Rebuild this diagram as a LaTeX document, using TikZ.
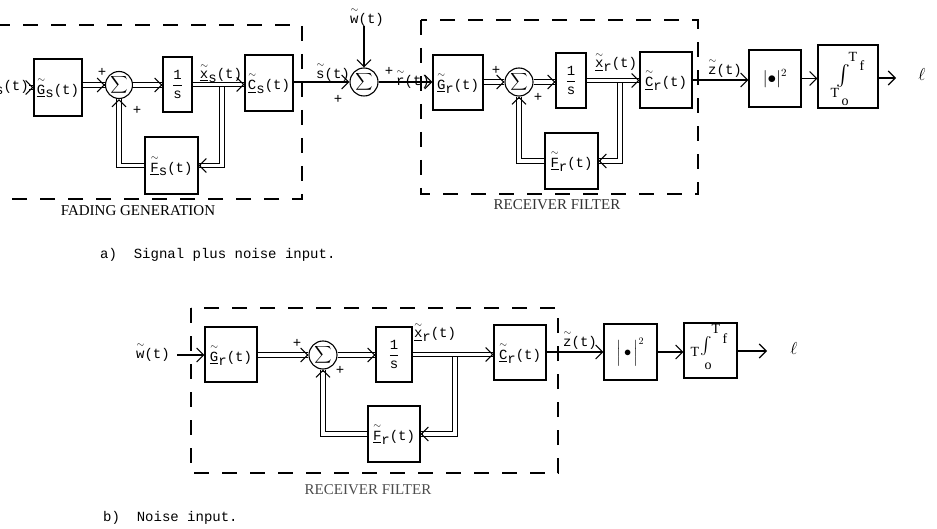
\documentclass[tikz,border=0pt]{standalone}
\usepackage{amsmath}
\usepackage{fontspec}
\setmainfont{Liberation Serif}
\setmonofont{Liberation Mono}
\usetikzlibrary{arrows.meta}
\newcommand{\vt}[1]{$\underline{\stackrel{\sim}{\hbox{\ttfamily #1}}}$}
\newcommand{\tl}[1]{$\stackrel{\sim}{\hbox{\ttfamily #1}}$}
\newcommand{\sbs}[1]{\raisebox{-0.5ex}{#1}}
\newcommand{\tipR}[1]{\draw[arr] ([xshift=-1pt]#1) -- (#1);}
\newcommand{\tipL}[1]{\draw[arr] ([xshift=1pt]#1) -- (#1);}
\newcommand{\tipU}[1]{\draw[arr] ([yshift=-1pt]#1) -- (#1);}
\begin{document}
\begin{tikzpicture}[x=1pt,y=-1pt,
  every node/.style={font=\fontsize{14}{16}\selectfont\ttfamily, inner sep=0pt},
  blk/.style 2 args={draw, line width=1.1pt, minimum width=#1, minimum height=#2},
  sumc/.style={draw, circle, line width=1.1pt, minimum size=27pt, font=\fontsize{12}{14}\selectfont},
  arr/.style={line width=1.1pt, -{Straight Barb[length=7pt,width=14pt]}},
  dl/.style={line width=1pt, double, double distance=3.5pt},
  dsh/.style={line width=1.1pt, dash pattern=on 15pt off 13pt},
  captxt/.style={font=\fontsize{15}{17}\selectfont\rmfamily},
  lim/.style={font=\fontsize{14}{16}\selectfont\rmfamily},
  pl/.style={font=\fontsize{14}{16}\selectfont\ttfamily}]
\useasboundingbox (0,0) rectangle (937,529);

% ---------------- part a ----------------
\draw[dsh] (-5,25) -- (302,25) -- (302,199) -- (-5,199);
\draw[dsh] (421,20) rectangle (698,194);

\node[blk={48pt}{57pt}] (Gs) at (58,87.5) {\vt{G}\sbs{s}(t)};
\node[sumc] (s1) at (119,85) {$\displaystyle\sum$};
\node[blk={29pt}{55pt}] (I1) at (177.5,84.5) {$\displaystyle\frac{\hbox{1}}{\hbox{s}}$};
\node[blk={48pt}{56pt}] (Cs) at (269,83) {\vt{C}\sbs{s}(t)};
\node[blk={53pt}{57pt}] (Fs) at (171.5,165.5) {\vt{F}\sbs{s}(t)};
\node[sumc, minimum size=28pt] (s2) at (364,82) {$\displaystyle\sum$};
\node[blk={50pt}{55pt}] (Gr) at (458,82.5) {\vt{G}\sbs{r}(t)};
\node[sumc, minimum size=28pt] (s3) at (519,82) {$\displaystyle\sum$};
\node[blk={30pt}{55pt}] (I2) at (571,80.5) {$\displaystyle\frac{\hbox{1}}{\hbox{s}}$};
\node[blk={52pt}{56pt}] (Cr) at (666,80) {\vt{C}\sbs{r}(t)};
\node[blk={53pt}{56pt}] (Fr) at (571.5,161) {\vt{F}\sbs{r}(t)};
\node[blk={52pt}{57pt}, font=\fontsize{16}{18}\selectfont] (Sq) at (775,78.5) {$|{\bullet}|^2$};
\node[blk={60pt}{63pt}] (Ig) at (848,76.5) {};
\node[font=\fontsize{20}{22}\selectfont] (Iga) at (843,76) {$\int$};
\node[lim] (Igf) at (853,57) {T};
\node[lim] (Igf2) at (862,66) {f};
\node[lim] (Igo) at (835,93) {T};
\node[lim] (Igo2) at (845,102) {o};
\node[font=\fontsize{16}{18}\selectfont] (l1) at (922,75) {$\ell$};

% labels a
\node[anchor=east] (inl) at (29,85) {\tl{w}\sbs{s}(t)};
\node[pl] (pa1) at (102,72) {+};
\node[pl] (pa2) at (137,110) {+};
\node (xs) at (221,73) {\vt{x}\sbs{s}(t)};
\node (sl) at (333,72) {\tl{s}(t)};
\node[pl] (pa3) at (338,99) {+};
\node (wl) at (367,17) {\tl{w}(t)};
\node[pl] (pa4) at (389,71) {+};
\node (rl) at (413,79) {\tl{r}(t)};
\node[pl] (pa5) at (496,70) {+};
\node[pl] (pa6) at (538,97) {+};
\node (xr) at (616,62) {\vt{x}\sbs{r}(t)};
\node (zl) at (725,68) {\tl{z}(t)};

% connectors a
\draw[dl] (inl.east |- Gs.west) -- (Gs.west);
\draw[dl] (Gs.east |- s1.west) -- (s1.west);
\draw[dl] (s1.east) -- (I1.west |- s1.east) coordinate (t2);
\draw[dl] (I1.east) -- (Cs.west |- I1.east) coordinate (t3);
\coordinate (b1) at (222,86.8);
\draw[dl] (b1) |- (Fs.east);
\draw[dl] (Fs.west) -| (s1.south);
\tipR{Gs.west}
\tipR{s1.west}
\tipR{t2}
\tipR{t3}
\tipL{Fs.east}
\tipU{s1.south}
\draw[arr] (Cs.east |- s2.west) -- (s2.west);
\draw[arr] (wl.south -| s2.north) -- (s2.north);
\draw[arr] (s2.east) -- (Gr.west |- s2.east);
\draw[dl] (Gr.east |- s3.west) -- (s3.west);
\draw[dl] (s3.east) -- (I2.west |- s3.east) coordinate (t5);
\draw[dl] (I2.east) -- (Cr.west |- I2.east) coordinate (t6);
\coordinate (b2) at (620,82.8);
\draw[dl] (b2) |- (Fr.east);
\draw[dl] (Fr.west) -| (s3.south);
\tipR{s3.west}
\tipR{t5}
\tipR{t6}
\tipL{Fr.east}
\tipU{s3.south}
\draw[arr] (Cr.east) -- (Sq.west |- Cr.east);
\draw[arr] (Sq.east) -- (Ig.west |- Sq.east);
\coordinate (o1) at (896,78);
\draw[arr] (Ig.east |- o1) -- (o1);

\node[captxt] (capa1) at (138,211) {FADING GENERATION};
\node[captxt, black!80] (capa2) at (557,205) {RECEIVER FILTER};
\node[anchor=west] (capa) at (100,255) {a)~~Signal plus noise input.};

% ---------------- part b ----------------
\draw[dsh] (191,308) rectangle (558,473);

\node[blk={52pt}{55pt}] (Gb) at (231,354.5) {\vt{G}\sbs{r}(t)};
\node[sumc, minimum size=28pt] (sb) at (323,355) {$\displaystyle\sum$};
\node[blk={36pt}{55pt}] (Ib) at (394,354.5) {$\displaystyle\frac{\hbox{1}}{\hbox{s}}$};
\node[blk={52pt}{56pt}] (Fb) at (394,434) {\vt{F}\sbs{r}(t)};
\node[blk={52pt}{55pt}] (Cb) at (520,352.5) {\vt{C}\sbs{r}(t)};
\node[blk={53pt}{56pt}] (Sqb) at (630.5,352) {$\Big|\,{\bullet}\,\Big|^2$};
\node[blk={53pt}{55pt}] (Igb) at (710.5,350.5) {};
\node[font=\fontsize{18}{20}\selectfont] (Igba) at (706,346) {$\int$};
\node[lim] (Igbt) at (695,352) {T};
\node[lim] (Igbo) at (708,366) {o};
\node[lim] (Igbf) at (716,329) {T};
\node[lim] (Igbf2) at (725,339) {f};
\node[font=\fontsize{16}{18}\selectfont] (l2) at (794,348) {$\ell$};

\node (wb) at (153,352) {\tl{w}(t)};
\node[pl] (pb1) at (297,343) {+};
\node[pl] (pb2) at (340,370) {+};
\node (xb) at (435,332) {\vt{x}\sbs{r}(t)};
\node (zb) at (580,340) {\tl{z}(t)};

\coordinate (wst) at (177,355);
\draw[arr] (wst) -- (Gb.west |- wst);
\draw[dl] (Gb.east |- sb.west) -- (sb.west);
\draw[dl] (sb.east) -- (Ib.west |- sb.east) coordinate (u2);
\draw[dl] (Ib.east) -- (Cb.west |- Ib.east) coordinate (u3);
\coordinate (b3) at (455,356.8);
\draw[dl] (b3) |- (Fb.east);
\draw[dl] (Fb.west) -| (sb.south);
\tipR{sb.west}
\tipR{u2}
\tipR{u3}
\tipL{Fb.east}
\tipU{sb.south}
\draw[arr] (Cb.east |- Sqb.west) -- (Sqb.west);
\draw[arr] (Sqb.east) -- (Igb.west |- Sqb.east);
\coordinate (o2) at (767,351);
\draw[arr] (Igb.east |- o2) -- (o2);

\node[captxt, black!70] (capb1) at (368,490) {RECEIVER FILTER};
\node[anchor=west] (capb) at (103,518) {b)~~Noise input.};
\end{tikzpicture}
\end{document}
